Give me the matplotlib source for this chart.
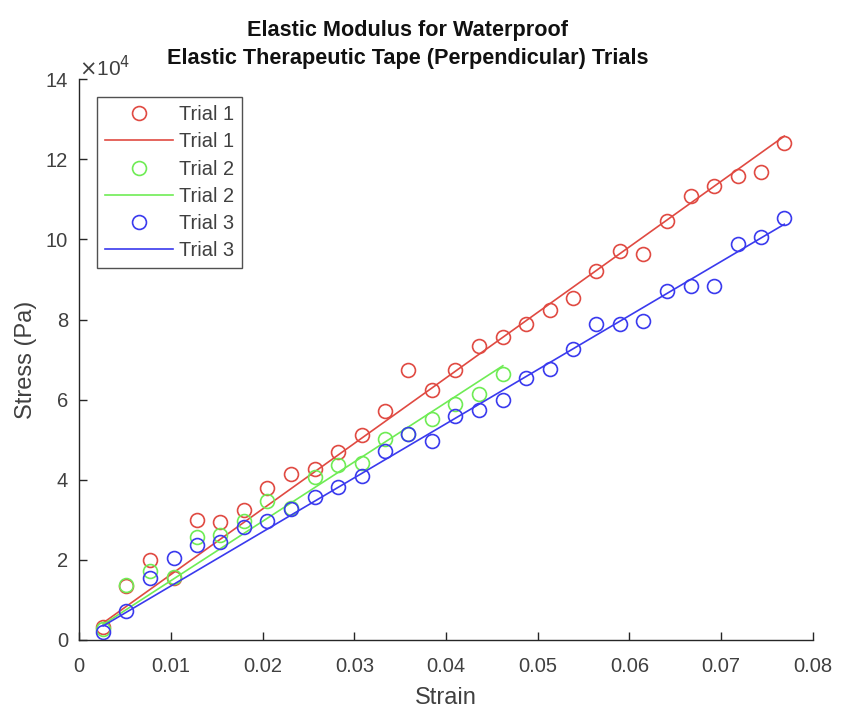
import numpy as np
import matplotlib
matplotlib.use("Agg")
import matplotlib.pyplot as plt

plt.rcParams['font.family'] = ['Liberation Sans', 'DejaVu Sans']

# Strain at each load step
strain = [0.0026, 0.0051, 0.0077, 0.0103, 0.0128, 0.0154, 0.0180, 0.0205,
          0.0231, 0.0257, 0.0282, 0.0308, 0.0333, 0.0359, 0.0385, 0.0410,
          0.0436, 0.0462, 0.0487, 0.0513, 0.0539, 0.0564, 0.0590, 0.0615,
          0.0641, 0.0667, 0.0692, 0.0718, 0.0744, 0.0769]

# Measured stress (Pa) for each trial
stress_trial1 = [3300, 13400, 19900, 15500, 29900, 29500, 32500, 37900,
                 41500, 42600, 46900, 51300, 57100, 67300, 62300, 67300,
                 73300, 75700, 79000, 82500, 85400, 92100, 97100, 96400,
                 104600, 110800, 113300, 115800, 116800, 124000]
stress_trial2 = [2800, 13800, 17300, 15600, 25800, 26300, 29800, 34800,
                 33000, 40800, 43600, 44200, 50200, 51500, 55200, 59000,
                 61500, 66300]
stress_trial3 = [1900, 7300, 15400, 20400, 23600, 24400, 28300, 29700,
                 32600, 35800, 38200, 41000, 47300, 51500, 49800, 56000,
                 57300, 60000, 65400, 67700, 72700, 78800, 78800, 79600,
                 87100, 88300, 88500, 98800, 100700, 105300]

labels = ['Trial 1', 'Trial 2', 'Trial 3']
colors = ['#e04a42', '#6fec55', '#3a3aee']

fig = plt.figure(figsize=(8.41, 7.11), dpi=100)
ax = fig.add_axes([0.0943, 0.0999, 0.8721, 0.7886])

text_color = '#404040'
axis_color = '#262626'

for y, lab, col in zip([stress_trial1, stress_trial2, stress_trial3], labels, colors):
    x = np.asarray(strain[:len(y)])
    y = np.asarray(y, dtype=float)
    ax.plot(x, y, linestyle='none', marker='o', markersize=10,
            markerfacecolor='none', markeredgecolor=col, markeredgewidth=1.2,
            label=lab)
    # Elastic modulus: least-squares line through the origin (stress = E * strain)
    modulus = np.sum(x * y) / np.sum(x * x)
    ax.plot(x, modulus * x, color=col, linewidth=1.2, label=lab)

ax.set_xlim(0, 0.08)
ax.set_ylim(0, 14e4)
ax.set_xticks(np.arange(0, 0.0801, 0.01))
ax.set_xticklabels(['0', '0.01', '0.02', '0.03', '0.04', '0.05', '0.06', '0.07', '0.08'])
ax.set_yticks(np.arange(0, 14.01e4, 2e4))
ax.set_yticklabels([str(v) for v in range(0, 15, 2)])

for side in ['top', 'right']:
    ax.spines[side].set_visible(False)
for side in ['left', 'bottom']:
    ax.spines[side].set_color(axis_color)
    ax.spines[side].set_linewidth(1.0)

ax.tick_params(direction='in', length=6, width=1.0, color=axis_color,
               labelcolor=text_color, labelsize=14.5)
ax.tick_params(axis='x', pad=12)
ax.tick_params(axis='y', pad=8)

ax.text(0.0, 0.999, r'$\times$10$^{4}$', transform=ax.transAxes, ha='left',
        va='bottom', fontsize=15, color=text_color)

ax.set_xlabel('Strain', fontsize=17, color=text_color, labelpad=8)
ax.set_ylabel('Stress (Pa)', fontsize=17, color=text_color, labelpad=6)
ax.text(0.448, 1.018,
        'Elastic Modulus for Waterproof\nElastic Therapeutic Tape (Perpendicular) Trials',
        transform=ax.transAxes, ha='center', va='bottom', multialignment='center',
        fontsize=15.6, fontweight='bold', color='#111111', linespacing=1.45)

leg = ax.legend(loc='upper left', bbox_to_anchor=(0.0245, 0.968), fontsize=14.4,
                frameon=True, fancybox=False, handlelength=3.4,
                handletextpad=0.3, labelspacing=0.41, borderpad=0.4,
                borderaxespad=0.0)
leg.get_frame().set_edgecolor(axis_color)
leg.get_frame().set_linewidth(1.0)
for t in leg.get_texts():
    t.set_color(text_color)

fig.savefig('out.png', dpi=100)
